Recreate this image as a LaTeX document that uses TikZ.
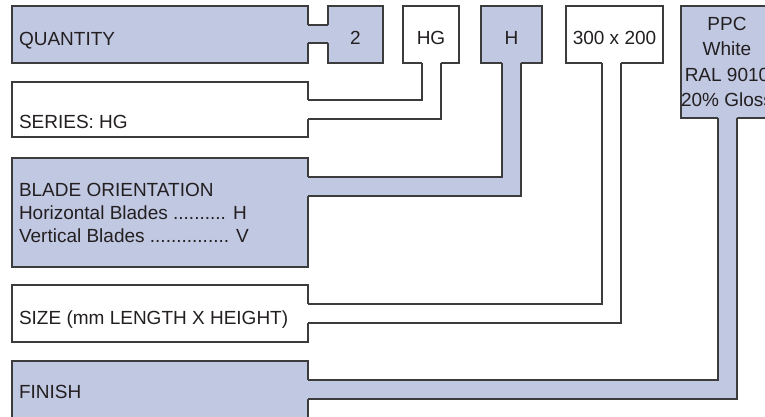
\documentclass[tikz,border=0pt]{standalone}
\usepackage{fontspec}
\setmainfont{Liberation Sans}
\usetikzlibrary{calc}
\definecolor{tagblue}{RGB}{193,200,226}
\definecolor{tagedge}{RGB}{60,60,60}
\definecolor{tagtext}{RGB}{35,31,32}

\begin{document}
\begin{tikzpicture}
        [
        x=1pt, y=-1pt,
        every node/.style={inner sep=0pt, outer sep=0pt, text=tagtext, font=\fontsize{19}{23.2}\selectfont},
        plate/.style={draw=tagedge, line width=1.1pt, rectangle, anchor=north west},
        blueplate/.style={plate, fill=tagblue},
        whiteplate/.style={plate, fill=white},
        wideplate/.style={minimum width=296pt},
        tagplate/.style={minimum height=57pt, text height=20pt, text depth=0pt},
        lbl/.style={anchor=base west},
        tagline/.style={draw=tagedge, line width=1.1pt}
        ]
        \useasboundingbox (0,0) rectangle (765,416);
        \clip (0,0) rectangle (765,416);

        \node[blueplate, wideplate, minimum height=57pt] (qty) at (12,6) {};
        \node[blueplate, tagplate, minimum width=55pt] (two) at (328,6) {2};
        \node[whiteplate, wideplate, minimum height=55pt] (series) at (12,82) {};
        \node[whiteplate, tagplate, minimum width=56pt] (hg) at (403,6) {HG};
        \node[blueplate, wideplate, minimum height=109pt] (blade) at (12,158) {};
        \node[blueplate, tagplate, minimum width=61pt] (h) at (481,6) {H};
        \node[whiteplate, wideplate, minimum height=57pt] (sizebox) at (12,285) {};
        \node[whiteplate, tagplate, minimum width=97pt] (dims) at (566,6) {300 x 200};
        \node[blueplate, wideplate, minimum height=80pt] (finish) at (12,361) {};
        \node[blueplate, minimum width=92pt, minimum height=112pt, align=center,
              font=\fontsize{19}{25.5}\selectfont] (ppc) at (681,6) {PPC\\White\\RAL 9010\\20\% Gloss};

        \node[lbl] (qtytxt) at ($(qty.north west)+(7,39)$) {QUANTITY};
        \node[lbl] (seriestxt) at ($(series.north west)+(7,46.5)$) {SERIES: HG};
        \node[anchor=north west, align=left] (bladetxt) at ($(blade.north west)+(7,25)$)
              {BLADE ORIENTATION\\Horizontal Blades .......... H\\Vertical Blades ............... V};
        \node[lbl] (sizetxt) at ($(sizebox.north west)+(7,39.5)$) {SIZE (mm LENGTH X HEIGHT)};
        \node[lbl] (finishtxt) at ($(finish.north west)+(7,37.5)$) {FINISH};

        % quantity notch
        \fill[tagblue] ($(qty.north east)+(-1,19)$) rectangle ($(two.north west)+(1,37)$);
        \draw[tagline] ($(qty.north east)+(0,19)$) -- ($(two.north west)+(0,19)$);
        \draw[tagline] ($(qty.north east)+(0,37)$) -- ($(two.north west)+(0,37)$);

        % series
        \fill[white] ($(series.north east)+(-1,18)$) -| ($(hg.south west)+(19,-1)$) -- ++(19,0) |- ($(series.north east)+(-1,37)$) -- cycle;
        \draw[tagline] ($(series.north east)+(0,18)$) -| ($(hg.south west)+(19,0)$);
        \draw[tagline] ($(series.north east)+(0,37)$) -| ($(hg.south west)+(38,0)$);

        % blade orientation
        \fill[tagblue] ($(blade.north east)+(-1,19)$) -| ($(h.south west)+(21,-1)$) -- ++(19,0) |- ($(blade.north east)+(-1,38)$) -- cycle;
        \draw[tagline] ($(blade.north east)+(0,19)$) -| ($(h.south west)+(21,0)$);
        \draw[tagline] ($(blade.north east)+(0,38)$) -| ($(h.south west)+(40,0)$);

        % size
        \fill[white] ($(sizebox.north east)+(-1,19)$) -| ($(dims.south west)+(36,-1)$) -- ++(19,0) |- ($(sizebox.north east)+(-1,38)$) -- cycle;
        \draw[tagline] ($(sizebox.north east)+(0,19)$) -| ($(dims.south west)+(36,0)$);
        \draw[tagline] ($(sizebox.north east)+(0,38)$) -| ($(dims.south west)+(55,0)$);

        % finish
        \fill[tagblue] ($(finish.north east)+(-1,19)$) -| ($(ppc.south west)+(37,-1)$) -- ++(19,0) |- ($(finish.north east)+(-1,38)$) -- cycle;
        \draw[tagline] ($(finish.north east)+(0,19)$) -| ($(ppc.south west)+(37,0)$);
        \draw[tagline] ($(finish.north east)+(0,38)$) -| ($(ppc.south west)+(56,0)$);
\end{tikzpicture}
\end{document}
